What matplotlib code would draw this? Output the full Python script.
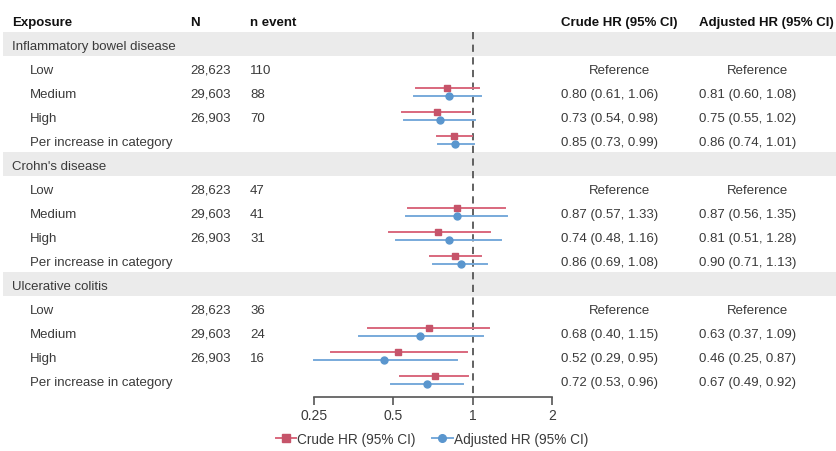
import matplotlib
matplotlib.use("Agg")
import matplotlib.pyplot as plt
from matplotlib.lines import Line2D
from matplotlib.transforms import blended_transform_factory

plt.rcParams['font.family'] = ['Liberation Sans', 'DejaVu Sans']

groups = ["Inflammatory bowel disease", "Crohn's disease", "Ulcerative colitis"]
levels = ["Low", "Medium", "High", "Per increase in category"]
n_total = ["28,623", "29,603", "26,903", ""]
n_event = [[110, 88, 70], [47, 41, 31], [36, 24, 16]]

# Medium, High, Per increase (Low is the reference)
crude_hr = [[0.80, 0.73, 0.85], [0.87, 0.74, 0.86], [0.68, 0.52, 0.72]]
crude_lo = [[0.61, 0.54, 0.73], [0.57, 0.48, 0.69], [0.40, 0.29, 0.53]]
crude_hi = [[1.06, 0.98, 0.99], [1.33, 1.16, 1.08], [1.15, 0.95, 0.96]]
adj_hr = [[0.81, 0.75, 0.86], [0.87, 0.81, 0.90], [0.63, 0.46, 0.67]]
adj_lo = [[0.60, 0.55, 0.74], [0.56, 0.51, 0.71], [0.37, 0.25, 0.49]]
adj_hi = [[1.08, 1.02, 1.01], [1.35, 1.28, 1.13], [1.09, 0.87, 0.92]]

ticks = [0.25, 0.5, 1, 2]
tick_labels = ["0.25", "0.5", "1", "2"]

W, H = 836, 452
red_m, red_l = "#C6546A", "#D9687D"
blue_m, blue_l = "#5A96CE", "#78AADB"
txt = "#3a3a3a"
fs = 9.5
ms = 5

fig = plt.figure(figsize=(W / 100, H / 100), dpi=100)
ax = fig.add_axes([0, 54 / H, 1, 398 / H])
ax.patch.set_alpha(0)

# x: 0.25 -> 314 px, 2 -> 552 px (log)
per_px = 3 / 238
ax.set_xscale('log', base=2)
ax.set_xlim(0.25 * 2 ** (-314 * per_px), 2 * 2 ** ((W - 552) * per_px))
y_bottom = (398 - 45) / 24
ax.set_ylim(y_bottom, -45 / 24)

tr = blended_transform_factory(fig.transFigure, ax.transData)

def fx(px):
    return px / W

def put(px, y, s, **kw):
    # baseline sits ~4.5 px below the row centre
    kw.setdefault('color', txt)
    ax.text(fx(px), y + 0.19, s, fontsize=fs, va='baseline', transform=tr, **kw)

# header
put(12, -1, "Exposure", fontweight='bold', color='#111111')
put(190, -1, "N", fontweight='bold', color='#111111')
put(250, -1, "n event", fontweight='bold', color='#111111')
put(561, -1, "Crude HR (95% CI)", fontweight='bold', color='#111111')
put(699, -1, "Adjusted HR (95% CI)", fontweight='bold', color='#111111')

row = 0
for g, name in enumerate(groups):
    ax.axhspan(row - 0.5, row + 0.5, xmin=3 / W, xmax=1, color='#EBEBEB', lw=0, zorder=0)
    put(12, row, name)
    row += 1
    for k, lev in enumerate(levels):
        put(30, row, lev)
        if k < 3:
            put(190, row, n_total[k])
            put(250, row, str(n_event[g][k]))
        if k == 0:
            put(620, row, "Reference", ha='center')
            put(758, row, "Reference", ha='center')
        else:
            j = k - 1
            c = (crude_hr[g][j], crude_lo[g][j], crude_hi[g][j])
            a = (adj_hr[g][j], adj_lo[g][j], adj_hi[g][j])
            put(561, row, "%.2f (%.2f, %.2f)" % c)
            put(699, row, "%.2f (%.2f, %.2f)" % a)
            yc, ya = row - 0.155, row + 0.155
            ax.plot([c[1], c[2]], [yc, yc], color=red_l, lw=1.4, zorder=3, clip_on=False)
            ax.plot(c[0], yc, 's', color=red_m, ms=ms, zorder=4, clip_on=False)
            ax.plot([a[1], a[2]], [ya, ya], color=blue_l, lw=1.4, zorder=3, clip_on=False)
            ax.plot(a[0], ya, 'o', color=blue_m, ms=ms, zorder=4, clip_on=False)
        row += 1

ax.plot([1, 1], [-0.5, y_bottom], color='#555555', lw=1.3, ls=(0, (4, 3)), zorder=2)

for s in ['top', 'right', 'left']:
    ax.spines[s].set_visible(False)
ax.spines['bottom'].set_bounds(0.25, 2)
ax.spines['bottom'].set_color('#555555')
ax.spines['bottom'].set_linewidth(1.2)
ax.set_yticks([])
ax.set_xticks(ticks)
ax.set_xticklabels(tick_labels)
ax.minorticks_off()
ax.tick_params(axis='x', direction='out', length=6, width=1.2, color='#555555',
               labelsize=10, labelcolor=txt, pad=2)

handles = [
    Line2D([], [], color=red_l, lw=1.4, marker='s', ms=ms + 0.5, mfc=red_m, mec=red_m),
    Line2D([], [], color=blue_l, lw=1.4, marker='o', ms=ms + 0.5, mfc=blue_m, mec=blue_m),
]
fig.legend(handles, ["Crude HR (95% CI)", "Adjusted HR (95% CI)"], loc='center',
           bbox_to_anchor=(432 / W, 12 / H), ncol=2, frameon=False, fontsize=fs + 0.3,
           handlelength=1.5, handletextpad=0.1, columnspacing=1.2,
           labelcolor=txt)

fig.savefig('out.png', dpi=100)
